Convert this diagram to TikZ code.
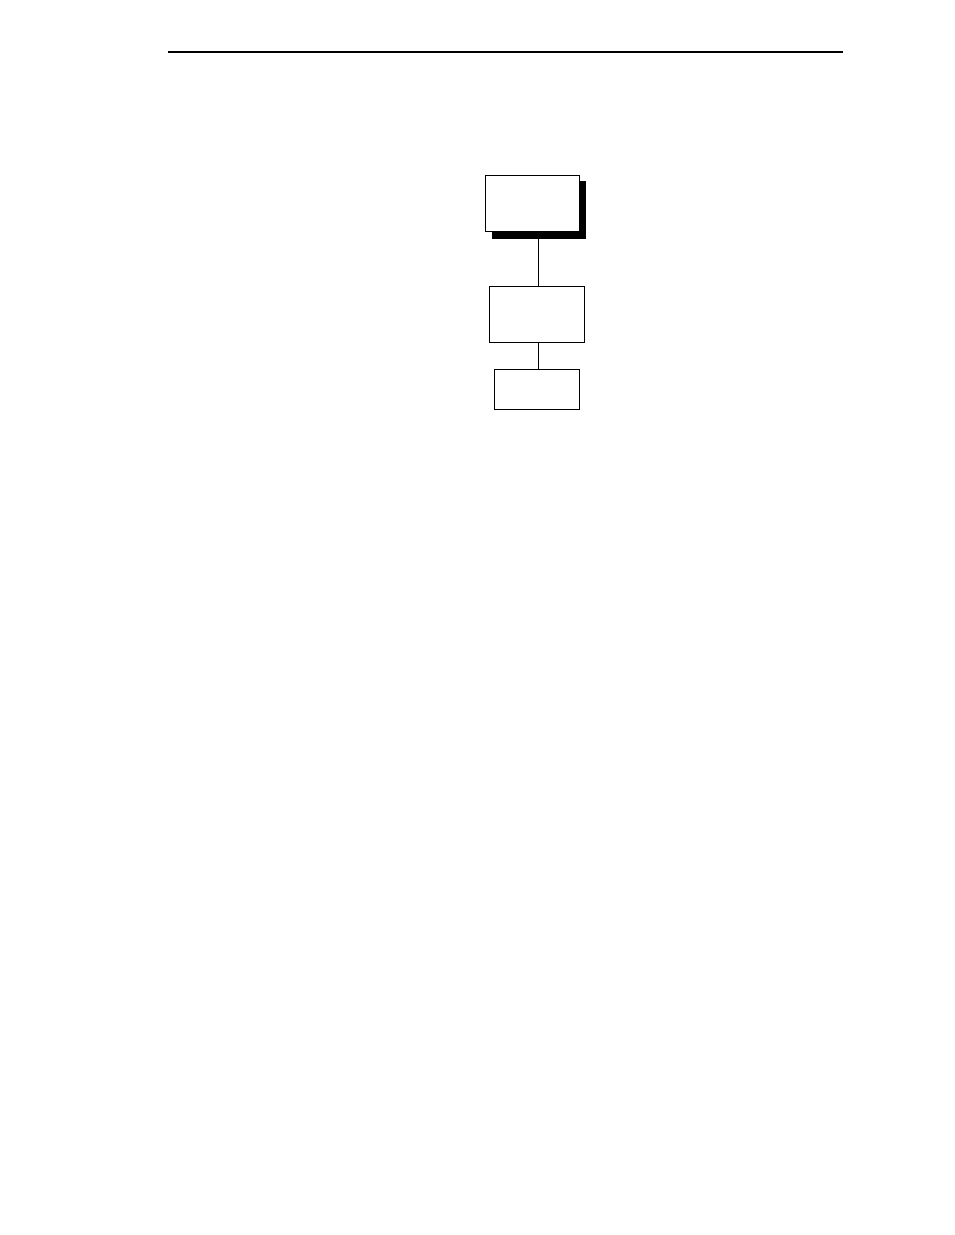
\documentclass[tikz,border=0pt]{standalone}
\begin{document}
\begin{tikzpicture}[x=1pt,y=-1pt,
  boxstyle/.style={draw=black,fill=white,line width=1pt,rectangle,inner sep=0pt},
  shadowstyle/.style={fill=black,draw=none,rectangle,inner sep=0pt},
  link/.style={draw=black,line width=1pt}]
\useasboundingbox (0,0) rectangle (954,1235);
\fill[white] (0,0) rectangle (954,1235);
\coordinate (rl) at (168,52);
\coordinate (rr) at (843,52);
\draw[line width=2pt] (rl) -- (rr);
\node[shadowstyle,minimum width=94pt,minimum height=58pt] (sh) at (539,210) {};
\node[boxstyle,minimum width=94pt,minimum height=56pt] (b1) at (532,203) {};
\node[boxstyle,minimum width=95pt,minimum height=56pt] (b2) at (536.5,314) {};
\node[boxstyle,minimum width=85pt,minimum height=40pt] (b3) at (536.5,389) {};
\draw[link] ([xshift=1.5pt]b2.north) -- ([xshift=1.5pt]b2.north |- sh.south);
\draw[link] ([xshift=1.5pt]b2.south) -- ([xshift=1.5pt]b2.south |- b3.north);
\end{tikzpicture}
\end{document}
